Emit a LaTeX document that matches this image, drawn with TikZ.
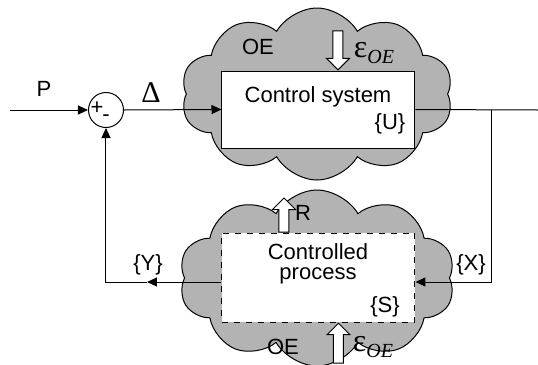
\documentclass[tikz,border=0pt]{standalone}
\usepackage{fontspec}
\setmainfont{Liberation Sans}
\newfontfamily\greekfont{Liberation Serif}
\usepackage{tikz}
\usetikzlibrary{shapes.symbols, shapes.arrows, arrows.meta, positioning, calc}
\definecolor{cloudgray}{RGB}{179, 179, 179}
\newcommand{\epsOE}{{\greekfont\fontsize{16}{16}\selectfont ε\raisebox{-0.35ex}{\fontsize{10}{10}\selectfont\itshape OE}}}

\begin{document}
\begin{tikzpicture}[
    x=0.5pt, y=-0.5pt,
    every node/.style={font=\fontsize{11}{12}\selectfont},
    env/.style={cloud, cloud puffs=10, cloud puff arc=120, cloud ignores aspect,
                draw=black, fill=cloudgray, line width=0.5pt},
    blockbox/.style={rectangle, draw=black, fill=white, line width=0.5pt},
    hollow/.style={single arrow, draw=black, fill=white, line width=0.5pt,
                   inner sep=2.25pt, minimum width=11pt,
                   single arrow head extend=3.25pt},
    sigline/.style={line width=0.5pt},
    sig/.style={-{Triangle[length=5pt,width=4.5pt]}, line width=0.5pt},
    eps/.style={inner sep=0pt}
]
\useasboundingbox (0,0) rectangle (538,365);

% environments
\node[env, minimum width=136pt, minimum height=86pt] (cloudtop) at (317,94) {};
\node[env, minimum width=138pt, minimum height=88pt] (cloudbot) at (317,278) {};

% blocks
\node[blockbox, minimum width=96.5pt, minimum height=38.5pt] (ctrl) at (318.5,109.5) {};
\node[blockbox, dashed, minimum width=96.5pt, minimum height=44.5pt] (proc) at (318.5,277.5) {};
\node[circle, draw=black, line width=0.5pt, minimum size=17.5pt, inner sep=0pt] (sum) at (106,110) {};

\node (ctrltxt) at (318,97) {Control system};
\node (ctrlU) at (390,124) {\{U\}};
\node[align=center] (proctxt) at (318,264) {Controlled\\[-2pt]process};
\node (procS) at (385,307) {\{S\}};
\node (plus) at (97,108) {+};
\node (minus) at (106,118) {-};

% disturbances
\node[hollow, shape border rotate=270, minimum height=19.5pt, anchor=tip] (epstop) at ($(ctrl.north)+(19.5,0)$) {};
\node[hollow, shape border rotate=90, minimum height=17pt, anchor=tail] (rarr) at ($(proc.north)+(-34.5,0)$) {};
\node[hollow, shape border rotate=90, minimum height=20pt, anchor=tip] (epsbot) at ($(proc.south)+(20,0)$) {};

\node (oetop) at (258,47) {OE};
\node[eps] (epstoplbl) at (374,53) {\epsOE};
\node (rlbl) at (303,213) {R};
\node (oebot) at (283,347) {OE};
\node[eps] (epsbotlbl) at (373,347) {\epsOE};

% signals
\coordinate (in) at (10,110);
\coordinate (out) at (538,110);
\coordinate (br) at (492,110);
\coordinate (xcorner) at (492,282);
\coordinate (ymid) at (147,282);
\coordinate (ycorner) at (106,282);

\draw[sig] (in) -- (sum.west);
\draw[sig] (sum.east) -- (ctrl.west);
\draw[sigline] (ctrl.east) -- (out);
\draw[sig] (br) -- (xcorner) -- (xcorner -| proc.east);
\draw[sig] (ycorner -| proc.west) -- (ymid);
\draw[sig] (ymid) -- (ycorner) -- (sum.south);

\node (plbl) at (44,89) {P};
\node[font=\greekfont\fontsize{15}{15}\selectfont] (dlbl) at (151,93) {Δ};
\node (xlbl) at (471,265) {\{X\}};
\node (ylbl) at (148,265) {\{Y\}};

\end{tikzpicture}
\end{document}
